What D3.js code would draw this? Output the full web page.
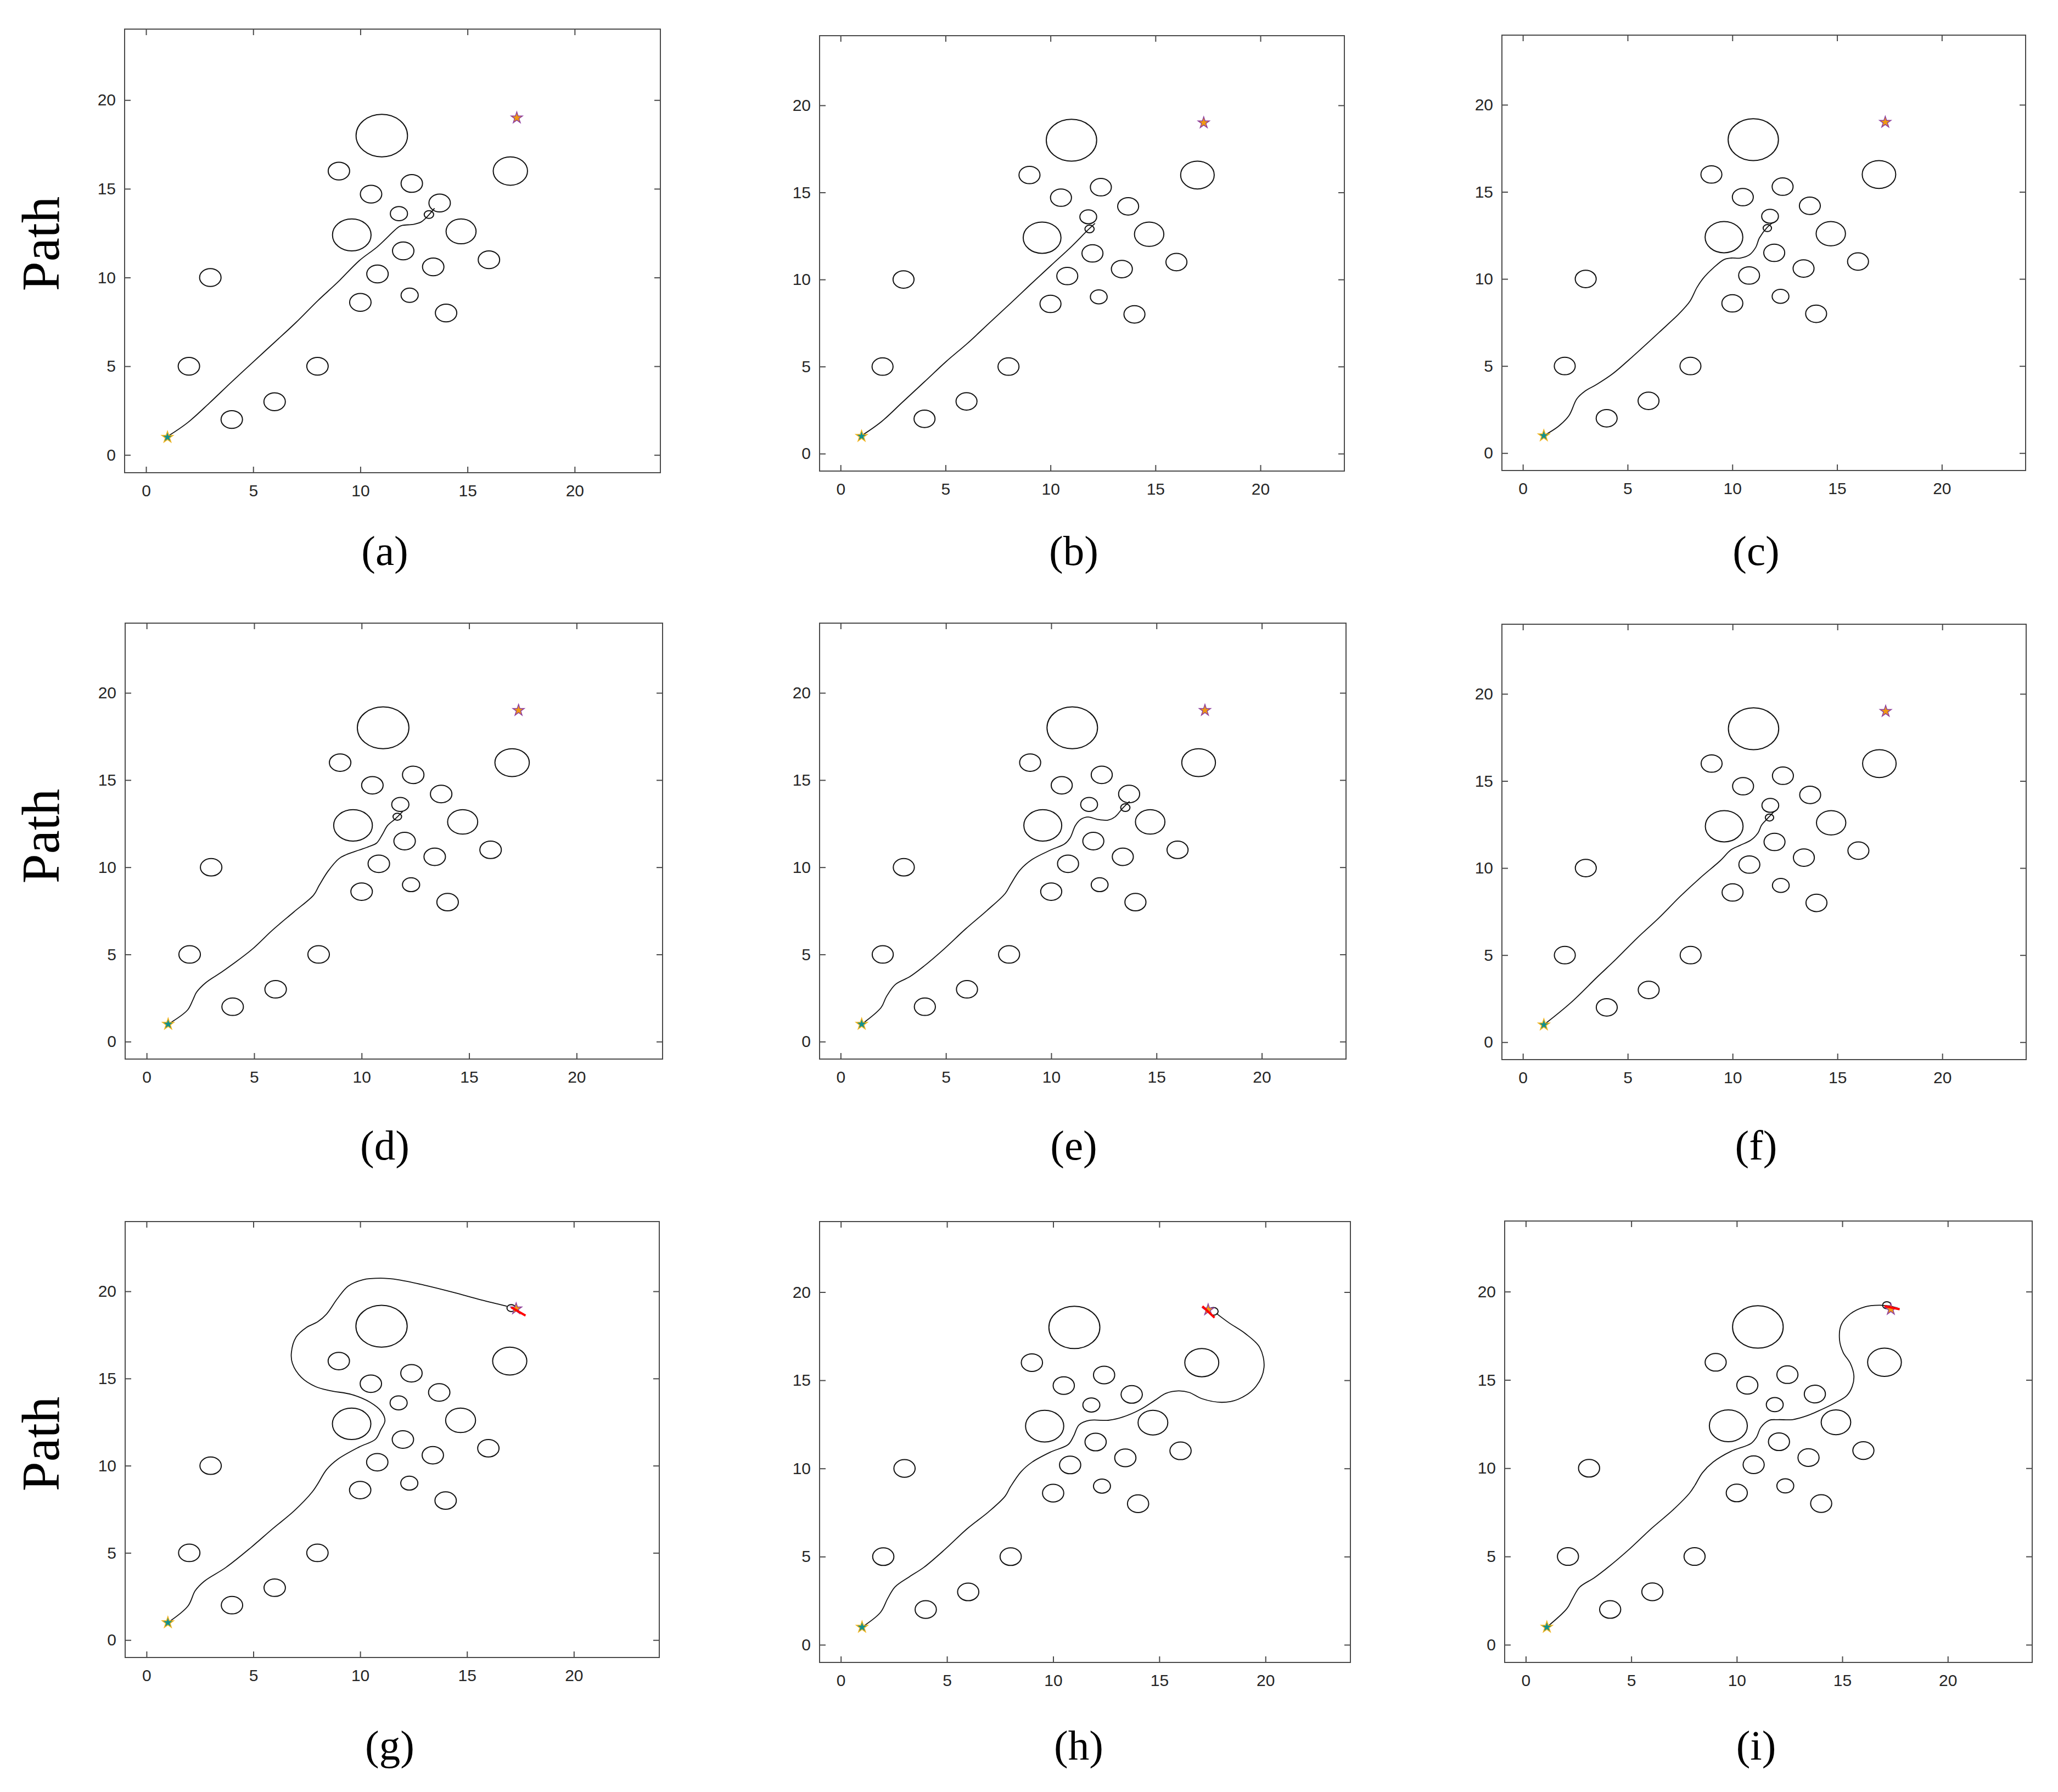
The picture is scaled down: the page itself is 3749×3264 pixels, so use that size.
<!DOCTYPE html>
<html>
<head>
<meta charset="utf-8">
<script src="https://cdn.jsdelivr.net/npm/d3@7"></script>
<style>
  body { margin: 0; background: #fff; }
  .tick text { font-family: "Liberation Sans", Arial, sans-serif; font-size: 30px; fill: #262626; }
  .tick line { stroke: #4a4a4a; stroke-width: 2; }
  .frame { fill: none; stroke: #4a4a4a; stroke-width: 2; }
  .obstacle, .robot { fill: none; stroke: #111; stroke-width: 2; }
  .path-line { fill: none; stroke: #111; stroke-width: 1.8; }
  .heading { stroke: #ff0000; stroke-width: 4; }
  .ylab, .sublab { font-family: "Liberation Serif", "Times New Roman", serif; fill: #000; }
</style>
</head>
<body>
<div id="chart"></div>
<script>
// obstacle map, same in all panels
const obsX = [11, 9, 17, 12.4, 10.5, 13.7, 11.8, 9.6, 14.7, 12, 16, 13.4, 10.8, 3, 12.3, 10, 14, 2, 8, 6, 4];
const obsY = [18, 16, 16, 15.3, 14.7, 14.2, 13.6, 12.4, 12.6, 11.5, 11, 10.6, 10.2, 10, 9, 8.6, 8, 5, 5, 3, 2];
const obsR = [1.2, 0.5, 0.8, 0.5, 0.5, 0.5, 0.4, 0.9, 0.7, 0.5, 0.5, 0.5, 0.5, 0.5, 0.4, 0.5, 0.5, 0.5, 0.5, 0.5, 0.5];

const startPt = [1, 1];
const goalPt = [17.3, 19];
const ticks = [0, 5, 10, 15, 20];
const axisDomain = [-1, 24];
const subLabels = ['(a)', '(b)', '(c)', '(d)', '(e)', '(f)', '(g)', '(h)', '(i)'];
const rowLabel = 'Path';

// planned paths
const pathA = [[1.0,1.04],[1.94,1.82],[2.95,2.92],[3.96,4.08],[4.97,5.21],[5.99,6.34],[7.0,7.47],[8.01,8.69],[8.94,9.73],[9.95,10.95],[10.79,11.73],[11.8,12.86],[11.97,12.94],[12.48,13.0],[12.82,13.12],[13.15,13.47],[13.46,13.9]];
const pathB = [[1.0,1.03],[1.94,1.83],[2.97,2.98],[4.0,4.13],[5.03,5.29],[6.06,6.35],[7.09,7.51],[8.12,8.66],[8.98,9.64],[10.01,10.79],[11.04,11.94],[11.73,12.78],[12.12,13.22]];
const pathC = [[1.0,1.0],[1.69,1.53],[2.2,2.15],[2.58,3.12],[2.98,3.57],[3.49,3.92],[4.27,4.54],[5.3,5.61],[6.51,6.94],[7.45,8.0],[7.97,8.71],[8.31,9.51],[8.61,10.04],[9.09,10.63],[9.6,11.11],[9.95,11.2],[10.38,11.2],[10.81,11.38],[11.12,11.82],[11.29,12.35],[11.67,12.97],[11.93,13.24]];
const pathD = [[1.0,1.0],[1.9,1.81],[2.15,2.39],[2.32,2.83],[2.74,3.37],[3.49,3.99],[3.99,4.43],[4.92,5.31],[5.84,6.38],[6.85,7.44],[7.77,8.41],[8.02,8.95],[8.44,9.78],[8.94,10.49],[9.28,10.72],[9.87,10.98],[10.37,11.2],[10.7,11.39],[10.96,11.87],[11.21,12.4],[11.54,12.75],[11.91,13.2]];
const pathE = [[1.0,1.0],[1.92,1.95],[2.17,2.57],[2.6,3.28],[3.28,3.72],[3.97,4.34],[4.91,5.31],[5.94,6.47],[6.96,7.53],[7.82,8.5],[8.08,9.03],[8.51,9.83],[9.1,10.45],[9.96,10.98],[10.64,11.34],[10.9,11.69],[11.15,12.4],[11.41,12.75],[11.75,12.88],[12.18,12.75],[12.69,12.7],[13.03,12.89],[13.38,13.37],[13.72,13.78]];
const pathF = [[1.0,1.0],[2.27,2.25],[3.56,3.76],[4.42,4.74],[5.45,5.98],[6.48,7.13],[7.51,8.38],[8.46,9.44],[9.41,10.42],[9.92,11.04],[10.35,11.3],[10.87,11.6],[11.21,12.01],[11.38,12.46],[11.64,12.81],[11.99,13.26]];
const pathG = [[1.0,1.0],[1.94,1.95],[2.28,2.83],[2.7,3.37],[3.71,4.16],[4.89,5.31],[5.9,6.38],[6.91,7.41],[7.76,8.5],[8.01,8.95],[8.43,9.78],[8.94,10.36],[9.95,11.07],[10.71,11.51],[10.96,12.05],[11.16,12.58],[10.99,13.11],[10.46,13.64],[9.61,14.08],[8.6,14.3],[7.92,14.53],[7.25,15.06],[6.83,15.86],[6.78,16.48],[7.0,17.37],[7.5,17.94],[8.01,18.25],[8.43,18.7],[8.94,19.59],[9.44,20.3],[10.12,20.66],[10.96,20.75],[11.8,20.66],[12.98,20.36],[14.33,19.95],[15.68,19.5],[16.86,19.15]];
const pathH = [[1.0,1.0],[1.87,1.84],[2.21,2.63],[2.55,3.28],[3.23,3.86],[3.91,4.39],[4.93,5.44],[5.95,6.58],[6.97,7.55],[7.74,8.43],[7.99,8.96],[8.5,9.83],[9.01,10.36],[9.86,10.92],[10.71,11.36],[10.97,11.85],[11.22,12.47],[11.73,12.73],[12.59,12.73],[13.27,12.91],[14.12,13.35],[14.8,13.87],[15.31,14.26],[15.9,14.4],[16.41,14.31],[17.0,13.96],[17.94,13.75],[18.71,13.92],[19.56,14.66],[19.93,15.72],[19.73,16.86],[19.05,17.65],[18.28,18.26],[17.69,18.79]];
const pathI = [[1.0,1.0],[1.95,2.05],[2.21,2.6],[2.56,3.27],[3.24,3.79],[3.92,4.41],[4.94,5.45],[5.96,6.59],[6.98,7.64],[7.77,8.6],[8.02,9.04],[8.37,9.74],[8.88,10.35],[9.73,10.96],[10.67,11.4],[10.93,11.75],[11.14,12.31],[11.53,12.71],[11.96,12.75],[12.64,12.75],[13.33,12.97],[14.01,13.32],[14.61,13.67],[15.21,14.11],[15.47,14.63],[15.55,15.24],[15.38,15.94],[15.04,16.56],[14.87,17.26],[14.95,18.13],[15.38,18.74],[16.07,19.14],[16.75,19.23],[17.26,19.18],[17.69,19.04]];

// robot footprint at the last pose of each panel
const robotX = [13.2, 11.86, 11.67, 11.66, 13.52, 11.76, 17.07, 17.55, 17.11];
const robotY = [13.55, 12.9, 12.92, 12.9, 13.42, 12.9, 19.04, 18.91, 19.23];
const robotR = [0.22, 0.22, 0.2, 0.2, 0.22, 0.2, 0.2, 0.22, 0.2];

// red heading segments (only the last row)
const headingG = [[17.07,19.08],[17.74,18.61]];
const headingH = [[17.03,19.2],[17.6,18.55]];
const headingI = [[17.0,19.18],[17.72,19.0]];

const paths = [pathA, pathB, pathC, pathD, pathE, pathF, pathG, pathH, pathI];
const headings = [null, null, null, null, null, null, headingG, headingH, headingI];

// layout: frame boxes in page pixels [left, top, width, height]
const frames = [
  [227, 53, 976, 808], [1493, 65, 956, 793], [2736, 64, 954, 793],
  [228, 1135, 979, 794], [1493, 1135, 959, 794], [2736, 1137, 955, 793],
  [228, 2225, 973, 794], [1493, 2225, 967, 803], [2741, 2224, 961, 804]
];
const subPos = [[701,1029],[1956,1029],[3199,1029],[701,2112],[1956,2112],[3199,2112],[710,3205],[1965,3205],[3199,3205]];
const rowY = [444, 1523, 2630];

const svg = d3.select('#chart')
    .append('svg')
    .attr('width', 3749)
    .attr('height', 3264);

svg.append('rect').attr('width', 3749).attr('height', 3264).attr('fill', '#fff');

const lineGen = d3.line().curve(d3.curveCatmullRom.alpha(0.5));
const star = d3.symbol().type(d3.symbolStar).size(135);

paths.forEach((pts, i) => {
    const [fx, fy, fw, fh] = frames[i];
    const x = d3.scaleLinear().domain(axisDomain).range([0, fw]);
    const y = d3.scaleLinear().domain(axisDomain).range([fh, 0]);

    const g = svg.append('g').attr('transform', `translate(${fx},${fy})`);

    g.append('g')
        .attr('transform', `translate(0,${fh})`)
        .call(d3.axisBottom(x).tickValues(ticks).tickSizeInner(-11).tickSizeOuter(0).tickPadding(22));
    g.append('g')
        .call(d3.axisLeft(y).tickValues(ticks).tickSizeInner(-11).tickSizeOuter(0).tickPadding(16));
    g.append('g')
        .call(d3.axisTop(x).tickValues(ticks).tickSizeInner(-11).tickSizeOuter(0).tickFormat(''));
    g.append('g')
        .attr('transform', `translate(${fw},0)`)
        .call(d3.axisRight(y).tickValues(ticks).tickSizeInner(-11).tickSizeOuter(0).tickFormat(''));
    g.selectAll('.domain').remove();

    g.append('rect')
        .attr('class', 'frame')
        .attr('width', fw)
        .attr('height', fh);

    g.selectAll('.obstacle')
        .data(obsX)
        .enter()
        .append('ellipse')
        .attr('class', 'obstacle')
        .attr('cx', d => x(d))
        .attr('cy', (d, k) => y(obsY[k]))
        .attr('rx', (d, k) => x(obsR[k]) - x(0))
        .attr('ry', (d, k) => y(0) - y(obsR[k]));

    g.append('path')
        .datum(pts)
        .attr('class', 'path-line')
        .attr('d', lineGen.x(d => x(d[0])).y(d => y(d[1])));

    g.append('ellipse')
        .attr('class', 'robot')
        .attr('cx', x(robotX[i]))
        .attr('cy', y(robotY[i]))
        .attr('rx', x(robotR[i]) - x(0))
        .attr('ry', y(0) - y(robotR[i]));

    g.append('path')
        .attr('d', star())
        .attr('transform', `translate(${x(startPt[0])},${y(startPt[1])})`)
        .attr('fill', '#12908e')
        .attr('stroke', '#f0b21a')
        .attr('stroke-width', 1.5);

    g.append('path')
        .attr('d', star())
        .attr('transform', `translate(${x(goalPt[0])},${y(goalPt[1])})`)
        .attr('fill', '#f09a12')
        .attr('stroke', '#8e3f9e')
        .attr('stroke-width', 1.5);

    if (headings[i]) {
        const h = headings[i];
        g.append('line')
            .attr('class', 'heading')
            .attr('x1', x(h[0][0])).attr('y1', y(h[0][1]))
            .attr('x2', x(h[1][0])).attr('y2', y(h[1][1]));
    }

    svg.append('text')
        .attr('class', 'sublab')
        .attr('x', subPos[i][0])
        .attr('y', subPos[i][1])
        .attr('text-anchor', 'middle')
        .attr('font-size', 77)
        .text(subLabels[i]);
});

rowY.forEach(cy => {
    svg.append('text')
        .attr('class', 'ylab')
        .attr('transform', `translate(107,${cy}) rotate(-90)`)
        .attr('text-anchor', 'middle')
        .attr('font-size', 97)
        .text(rowLabel);
});
</script>
</body>
</html>
